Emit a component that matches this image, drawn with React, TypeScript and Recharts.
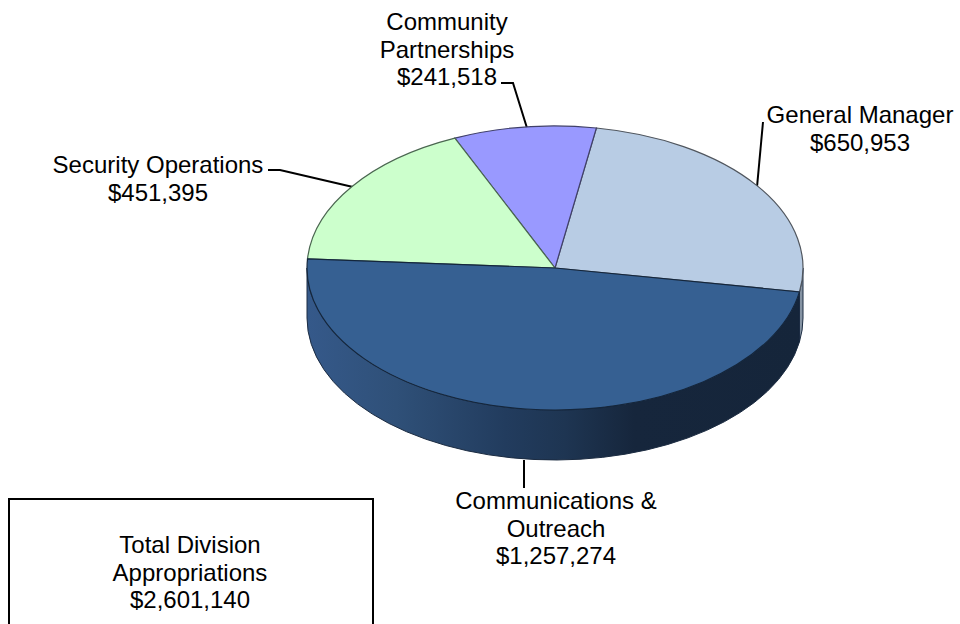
import { Pie, PieChart } from "recharts";

const divisions = ["General Manager", "Community Partnerships", "Security Operations", "Communications & Outreach"];
const appropriations = [650953, 241518, 451395, 1257274];
const topColors = ["#b8cce4", "#9999ff", "#ccffcc", "#366092"];
const wallColors = ["#8593a3", "#9999ff", "#ccffcc", "url(#wallGradient)"];
const edgeColors = ["#50565e", "#40406a", "#4a6650", "#14263c"];

const pieData = divisions.map((name, i) => ({
  name,
  value: appropriations[i],
  fill: topColors[i],
  wall: wallColors[i],
  edge: edgeColors[i],
}));

const CX = 555;
const CY = 268;
const RX = 248;
const RY = 142;
const DEPTH = 50;

function pointAt(angle: number, dy = 0) {
  const rad = (angle * Math.PI) / 180;
  return [CX + RX * Math.cos(rad), CY - RY * Math.sin(rad) + dy].map((n) => n.toFixed(2)).join(" ");
}

function TopSlice(props: any) {
  const { startAngle, endAngle, payload, fill, stroke } = props;
  const large = endAngle - startAngle > 180 ? 1 : 0;
  const d = `M ${CX} ${CY} L ${pointAt(startAngle)} A ${RX} ${RY} 0 ${large} 0 ${pointAt(endAngle)} Z`;
  return <path d={d} fill={payload?.fill ?? fill} stroke={payload?.edge ?? stroke} strokeWidth={1.2} />;
}

// only the part of a slice facing the viewer (180-360 degrees) has a visible wall
function WallSlice(props: any) {
  const { startAngle, endAngle, payload } = props;
  const parts: string[] = [];
  for (const shift of [-360, 0, 360]) {
    const from = Math.max(startAngle, 180 + shift);
    const to = Math.min(endAngle, 360 + shift);
    if (to > from) {
      parts.push(
        `M ${pointAt(from)} A ${RX} ${RY} 0 0 0 ${pointAt(to)} L ${pointAt(to, DEPTH)} A ${RX} ${RY} 0 0 1 ${pointAt(from, DEPTH)} Z`,
      );
    }
  }
  if (parts.length === 0) {
    return <g />;
  }
  return <path d={parts.join(" ")} fill={payload?.wall} stroke="#1c2c42" strokeWidth={1} />;
}

const FONT = "'Liberation Sans', Arial, sans-serif";

function Label({ x, y, lines }: { x: number; y: number; lines: string[] }) {
  return (
    <text x={x} y={y} textAnchor="middle" fontFamily={FONT} fontSize={24} fill="#000">
      {lines.map((line, i) => (
        <tspan key={line} x={x} dy={i === 0 ? 0 : 27.5}>
          {line}
        </tspan>
      ))}
    </text>
  );
}

function Leader({ points }: { points: string }) {
  return <polyline points={points} fill="none" stroke="#000" strokeWidth={2} />;
}

export default function App() {
  return (
    <div style={{ position: "absolute", left: 0, top: 0, width: 960, height: 624, overflow: "hidden" }}>
      <PieChart width={960} height={624} margin={{ top: 0, right: 0, bottom: 0, left: 0 }}>
        <defs>
          <linearGradient id="wallGradient" gradientUnits="userSpaceOnUse" x1={307} y1={0} x2={803} y2={0}>
            <stop offset="0" stopColor="#35598a" />
            <stop offset="0.18" stopColor="#2f5078" />
            <stop offset="0.4" stopColor="#223c5e" />
            <stop offset="0.52" stopColor="#1e3552" />
            <stop offset="0.66" stopColor="#16263c" />
            <stop offset="1" stopColor="#15253a" />
          </linearGradient>
        </defs>
        <Pie
          data={pieData}
          dataKey="value"
          cx={CX}
          cy={CY}
          outerRadius={RX}
          startAngle={-9.7}
          endAngle={350.3}
          shape={WallSlice}
          isAnimationActive={false}
          legendType="none"
        />
        <Pie
          data={pieData}
          dataKey="value"
          cx={CX}
          cy={CY}
          outerRadius={RX}
          startAngle={-9.7}
          endAngle={350.3}
          shape={TopSlice}
          isAnimationActive={false}
          legendType="none"
        />
        <Leader points="268,170 280,170 353,187" />
        <Leader points="501,83 513,83 527,128" />
        <Leader points="763,122 757,187" />
        <Leader points="524,460 524,488" />
        <Label x={447} y={30} lines={["Community", "Partnerships", "$241,518"]} />
        <Label x={860} y={123} lines={["General Manager", "$650,953"]} />
        <Label x={158} y={173} lines={["Security Operations", "$451,395"]} />
        <Label x={556} y={509} lines={["Communications &", "Outreach", "$1,257,274"]} />
        <rect x={9} y={499} width={364} height={140} fill="#fff" stroke="#000" strokeWidth={2} />
        <Label x={190} y={553} lines={["Total Division", "Appropriations", "$2,601,140"]} />
      </PieChart>
    </div>
  );
}
